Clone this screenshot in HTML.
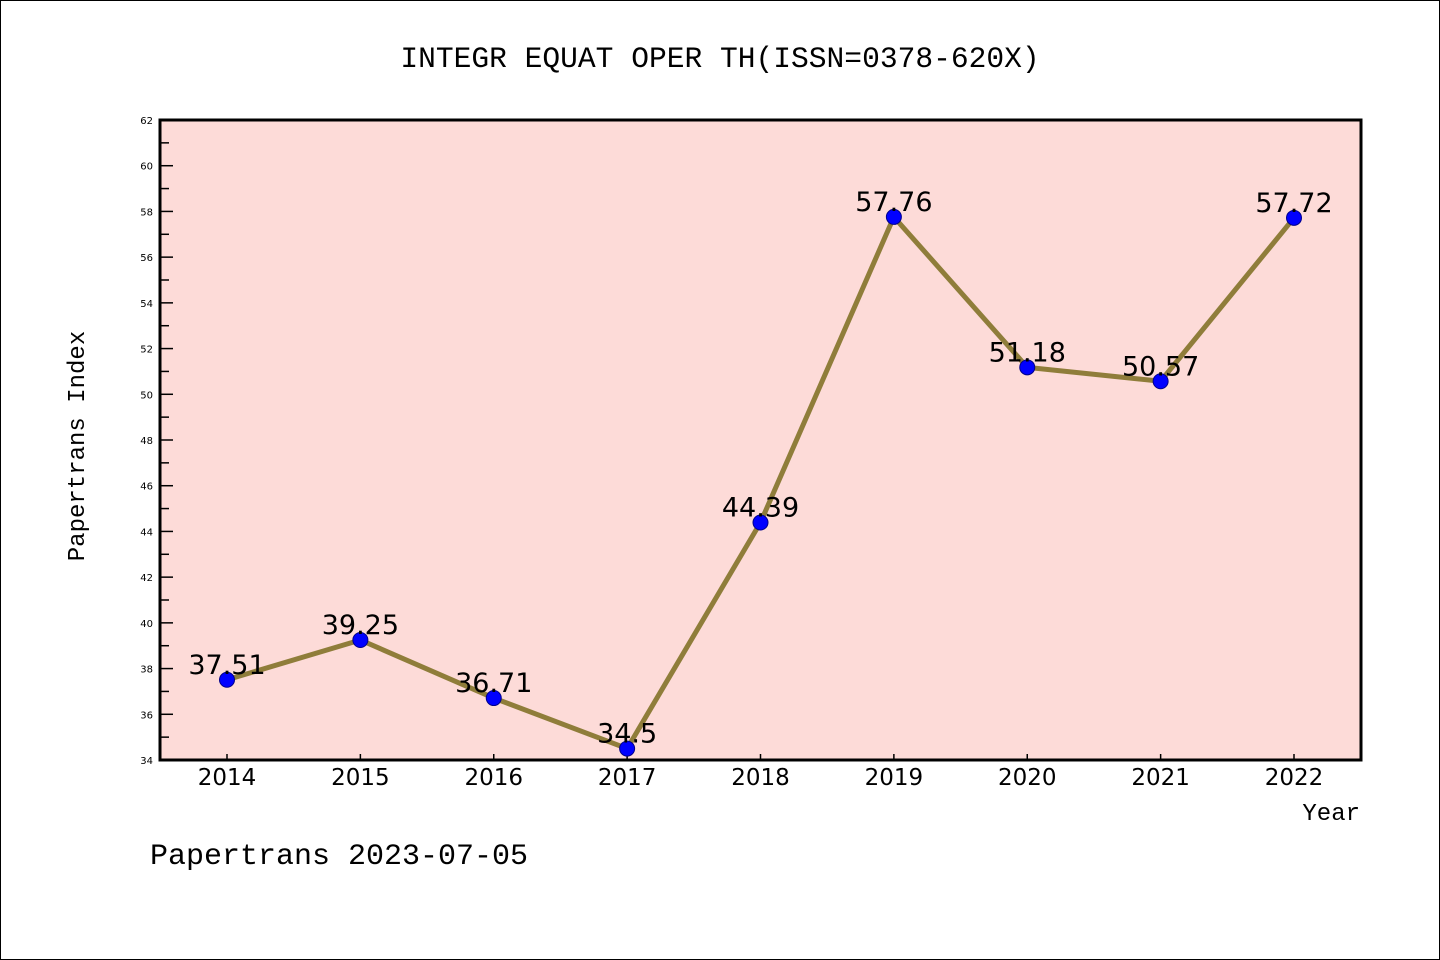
<!DOCTYPE html>
<html><head><meta charset="utf-8"><style>
body{margin:0;background:#fff}
svg{display:block}
</style></head><body>
<svg id="c" width="1440" height="960" xmlns="http://www.w3.org/2000/svg">
<rect x="0.5" y="0.5" width="1439" height="959" fill="#fff" stroke="#000"/>
<text x="720" y="67" text-anchor="middle" font-family="Liberation Mono, monospace" font-size="29.6">INTEGR EQUAT OPER TH(ISSN=0378-620X)</text>
<rect x="160" y="120" width="1201" height="640" fill="#fddbd8"/>
<g id="yt"></g><g id="xt"></g>
<rect x="160" y="120" width="1201" height="640" fill="none" stroke="#000" stroke-width="3"/>
<g id="ser"></g>
<text x="84" y="446" text-anchor="middle" transform="rotate(-90 84 446)" font-family="Liberation Mono, monospace" font-size="24">Papertrans Index</text>
<text x="1360" y="820" text-anchor="end" font-family="Liberation Mono, monospace" font-size="24">Year</text>
<text x="150" y="864" font-family="Liberation Mono, monospace" font-size="30">Papertrans 2023-07-05</text>
</svg>
<script>
const years=[2014,2015,2016,2017,2018,2019,2020,2021,2022];
const values=[37.51,39.25,36.71,34.5,44.39,57.76,51.18,50.57,57.72];
const labels=["37.51","39.25","36.71","34.5","44.39","57.76","51.18","50.57","57.72"];
const yMin=34,yMax=62;
const NS="http://www.w3.org/2000/svg";
const X=y=>227+(y-2014)*(1294-227)/8;
const Y=v=>760-(v-yMin)*640/(yMax-yMin);
function mk(t,a,p){const e=document.createElementNS(NS,t);for(const k in a)e.setAttribute(k,a[k]);p.appendChild(e);return e;}
const yt=document.getElementById('yt'),xt=document.getElementById('xt'),ser=document.getElementById('ser');
for(let v=yMin;v<=yMax;v++){
 const major=v%2===0;
 const l=mk('line',{x1:160,x2:major?173:169,y1:Y(v),y2:Y(v),stroke:'#000','stroke-width':1.5},yt);
 
 
 if(major){const t=mk('text',{x:153,y:Y(v)+4,'text-anchor':'end','font-family':'DejaVu Sans, sans-serif','font-size':10},yt);t.textContent=v;
 
 }
}
years.forEach(y=>{
 const l=mk('line',{x1:X(y),x2:X(y),y1:754,y2:760,stroke:'#000','stroke-width':1.5},xt);
 
 
 const t=mk('text',{x:X(y),y:785,'text-anchor':'middle','font-family':'DejaVu Sans, sans-serif','font-size':23},xt);t.textContent=y;
 
 
});
const pl=mk('polyline',{points:years.map((y,i)=>X(y)+','+Y(values[i])).join(' '),fill:'none',stroke:'#8f7d3a','stroke-width':5},ser);


years.forEach((y,i)=>{
 const c=mk('circle',{cx:X(y),cy:Y(values[i]),r:7.5,fill:'#0000ff',stroke:'#00008b','stroke-width':1},ser);
 
 
 const t=mk('text',{x:X(y),y:Y(values[i])-6,'text-anchor':'middle','font-family':'DejaVu Sans, sans-serif','font-size':27},ser);t.textContent=labels[i];
 
 
});
</script>
</body></html>
